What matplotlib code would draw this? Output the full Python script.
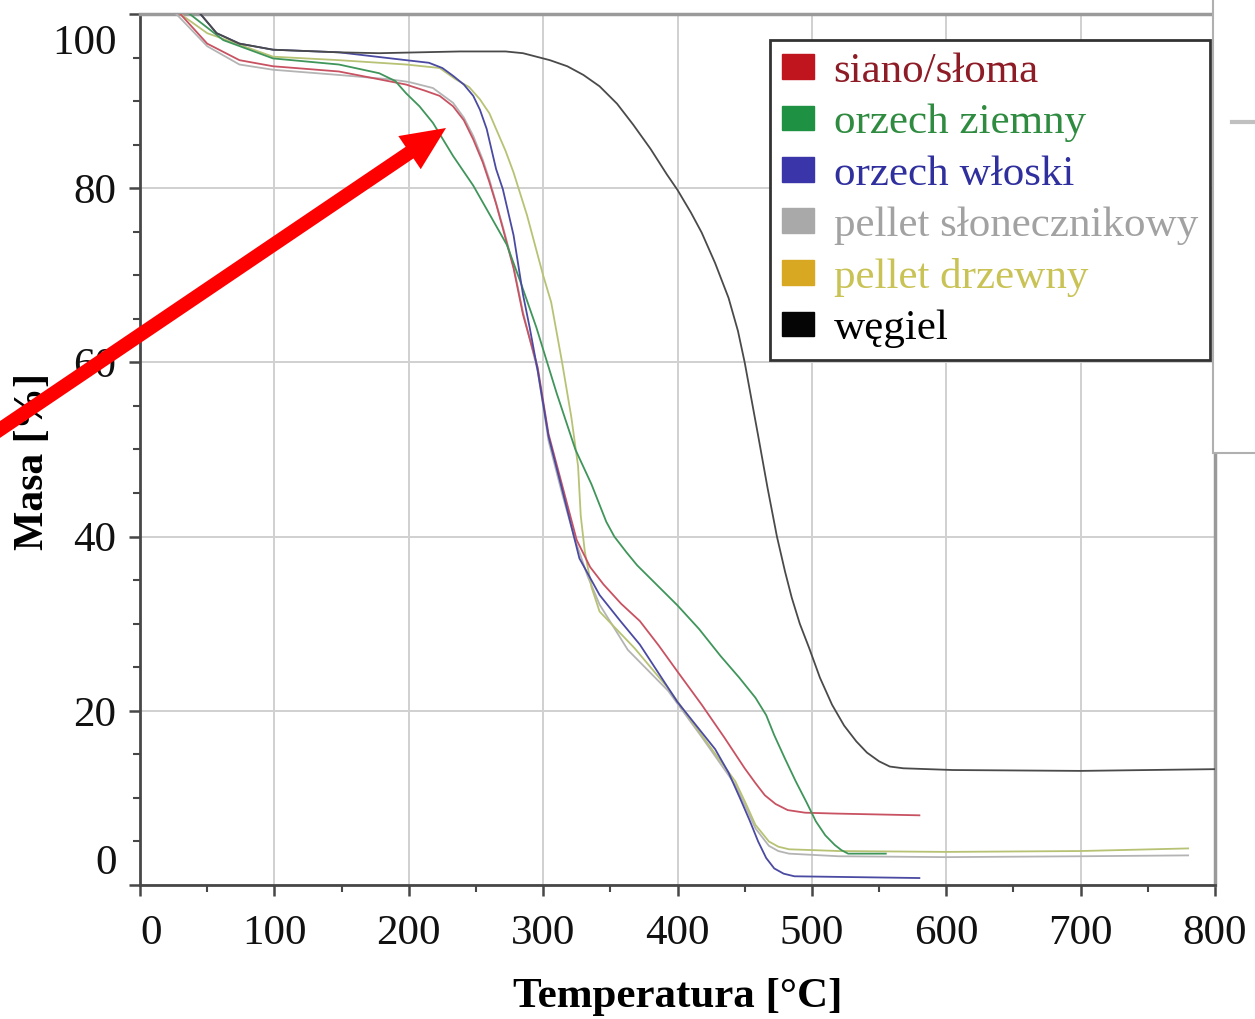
import matplotlib
matplotlib.use("Agg")
import matplotlib.pyplot as plt
from matplotlib.ticker import MultipleLocator
from matplotlib.patches import Patch, FancyArrow, Rectangle
from matplotlib.transforms import ScaledTranslation

SERIF = ["Liberation Serif", "DejaVu Serif"]

# --- TGA curves: temperature [°C] -> mass [%] ---
siano_T = [30, 50, 74, 99, 148, 198, 212, 223, 233, 241, 248, 255, 260, 265, 270, 278, 285,
           296, 304, 314, 325, 335, 345, 358, 372, 386, 400, 418, 435, 450, 458, 465, 473,
           482, 495, 518, 580]
siano_m = [100, 96.6, 94.7, 94.0, 93.4, 91.9, 91.2, 90.6, 89.4, 87.8, 85.6, 83.0, 80.7, 78.2,
           75.4, 70.8, 65.5, 59.4, 51.8, 46.0, 39.6, 36.5, 34.5, 32.3, 30.3, 27.5, 24.5, 20.7,
           16.9, 13.4, 11.7, 10.3, 9.3, 8.6, 8.3, 8.2, 8.0]

ziemny_T = [37, 62, 99, 148, 178, 190, 198, 208, 218, 233, 248, 262, 273, 283, 295, 310, 324,
            336, 347, 353, 362, 370, 385, 400, 416, 432, 446, 458, 466, 472, 480, 488, 496,
            503, 510, 517, 522, 527, 555]
ziemny_m = [100, 97.0, 94.9, 94.2, 93.2, 92.3, 90.9, 89.4, 87.5, 83.7, 80.3, 76.5, 73.5, 69.3,
            64.0, 56.5, 50.0, 46.0, 41.7, 40.0, 38.2, 36.7, 34.4, 32.1, 29.4, 26.3, 23.8, 21.5,
            19.5, 17.2, 14.5, 11.9, 9.5, 7.3, 5.7, 4.6, 4.0, 3.6, 3.6]

wloski_T = [45, 57, 74, 99, 148, 198, 215, 225, 233, 241, 248, 253, 258, 265, 270, 278, 285,
            290, 296, 304, 314, 327, 342, 357, 372, 386, 400, 414, 428, 438, 447, 454, 460,
            466, 472, 479, 487, 580]
wloski_m = [100, 97.8, 96.6, 95.9, 95.6, 94.7, 94.4, 93.8, 92.9, 91.9, 90.6, 89.0, 86.8, 82.2,
            79.9, 74.6, 67.8, 64.0, 59.0, 51.5, 45.5, 37.5, 33.3, 30.4, 27.6, 24.3, 21.0, 18.3,
            15.6, 12.9, 9.8, 7.3, 5.0, 3.1, 1.9, 1.3, 1.0, 0.8]

slonecz_T = [27, 50, 74, 99, 148, 186, 200, 218, 233, 241, 248, 255, 260, 270, 278, 285, 296,
             304, 314, 323, 333, 342, 363, 393, 418, 443, 451, 458, 468, 475, 483, 520, 600,
             700, 780]
slonecz_m = [100, 96.3, 94.2, 93.6, 93.0, 92.5, 92.2, 91.5, 89.8, 88.1, 86.0, 83.3, 81.0,
             75.6, 71.0, 65.8, 59.0, 51.0, 45.0, 40.0, 35.5, 32.2, 27.0, 22.3, 17.0, 11.5,
             8.9, 6.5, 4.5, 3.9, 3.6, 3.3, 3.2, 3.3, 3.4]

drzewny_T = [30, 50, 99, 148, 198, 223, 235, 245, 253, 260, 265, 272, 278, 288, 300, 306, 314,
             321, 326, 328, 331, 336, 342, 368, 393, 418, 443, 451, 458, 468, 475, 483, 520,
             600, 700, 780]
drzewny_m = [100, 97.8, 95.1, 94.7, 94.2, 93.8, 92.5, 91.6, 90.2, 88.6, 86.8, 84.3, 81.8, 76.9,
             70.0, 66.9, 60.1, 53.7, 48.1, 42.4, 38.3, 34.2, 31.4, 27.2, 22.6, 17.2, 11.9, 9.3,
             6.9, 5.0, 4.4, 4.1, 3.9, 3.8, 3.9, 4.2]

wegiel_T = [45, 57, 74, 99, 148, 178, 238, 272, 285, 295, 305, 318, 330, 342, 355, 367, 380,
            392, 400, 410, 418, 428, 438, 445, 450, 455, 460, 467, 474, 480, 485, 491, 498,
            506, 515, 524, 533, 541, 550, 558, 568, 605, 700, 800]
wegiel_m = [100, 97.8, 96.6, 95.9, 95.6, 95.5, 95.7, 95.7, 95.5, 95.1, 94.7, 94.0, 93.0, 91.7,
            89.7, 87.3, 84.5, 81.6, 79.8, 77.2, 74.9, 71.4, 67.4, 63.6, 60.0, 55.8, 51.6, 45.6,
            40.0, 36.0, 33.0, 30.0, 27.2, 23.8, 20.7, 18.3, 16.5, 15.2, 14.2, 13.6, 13.4, 13.2,
            13.1, 13.3]

labels = ["siano/słoma", "orzech ziemny", "orzech włoski",
          "pellet słonecznikowy", "pellet drzewny", "węgiel"]
line_colors = ["#c85262", "#3f955a", "#4a4aa2", "#b4b4b4", "#b8c274", "#4a4a4a"]
patch_colors = ["#c0141e", "#1f9142", "#3a35a8", "#a9a9a9", "#d9a822", "#050505"]
text_colors = ["#8e1c26", "#2e8b40", "#2f2f9e", "#a2a2a2", "#c9c255", "#000000"]

series = [(siano_T, siano_m), (ziemny_T, ziemny_m), (wloski_T, wloski_m),
          (slonecz_T, slonecz_m), (drzewny_T, drzewny_m), (wegiel_T, wegiel_m)]

W, H = 1255, 1019
fig = plt.figure(figsize=(W / 100, H / 100), dpi=100)
ax = fig.add_axes([140 / W, 1 - 885 / H, 1075 / W, 871 / H])

draw_order = [3, 4, 0, 1, 2, 5]
for i in draw_order:
    T, m = series[i]
    ax.plot(T, m, color=line_colors[i], lw=1.3, zorder=3)

ax.set_xlim(0, 800)
ax.set_ylim(0, 100)
ax.set_xticks(range(0, 801, 100))
ax.xaxis.set_minor_locator(MultipleLocator(50))
ax.set_yticks([0, 20, 40, 60, 80, 100])
ax.yaxis.set_minor_locator(MultipleLocator(5))
ax.grid(which="major", color="#d0d0d0", lw=1.4)
ax.set_axisbelow(True)

for side in ["left", "bottom"]:
    ax.spines[side].set_color("#474747")
    ax.spines[side].set_linewidth(2)
for side in ["top", "right"]:
    ax.spines[side].set_color("#9a9a9a")
    ax.spines[side].set_linewidth(2.5)

ax.tick_params(which="major", direction="out", length=8, width=1.8, color="#474747",
               labelsize=31, labelcolor="#111111")
ax.tick_params(which="minor", direction="out", length=5, width=1.5, color="#474747")
ax.tick_params(axis="y", pad=9)
ax.tick_params(axis="x", pad=13)
for lab in ax.get_xticklabels() + ax.get_yticklabels():
    lab.set_family(SERIF)
ylabs = ax.get_yticklabels()
ylabs[-1].set_transform(ylabs[-1].get_transform()
                        + ScaledTranslation(0, -0.25, fig.dpi_scale_trans))
ylabs[0].set_transform(ylabs[0].get_transform()
                       + ScaledTranslation(0, 0.26, fig.dpi_scale_trans))
ax.get_xticklabels()[0].set_ha("left")

ax.set_xlabel("Temperatura [°C]", fontsize=31, fontweight="bold", family=SERIF)
ax.set_ylabel("Masa [%]", fontsize=30, fontweight="bold", family=SERIF)
ax.xaxis.set_label_coords(0.5, -0.107)
ax.yaxis.set_label_coords(-0.082, 0.486)

handles = [Patch(facecolor=c, edgecolor=c) for c in patch_colors]
leg = ax.legend(handles, labels, loc="upper left", bbox_to_anchor=(0.586, 0.970),
                borderaxespad=0, prop={"family": SERIF, "size": 31},
                frameon=True, fancybox=False, framealpha=1, edgecolor="#333333",
                handlelength=0.75, handleheight=0.5, handletextpad=0.45,
                labelspacing=0.3, borderpad=0.28)
leg.get_frame().set_linewidth(2)
for txt, c in zip(leg.get_texts(), text_colors):
    txt.set_color(c)

# overlay in pixel space: red annotation arrow and the window edge on the right
ov = fig.add_axes([0, 0, 1, 1], zorder=10)
ov.set_xlim(0, W)
ov.set_ylim(H, 0)
ov.axis("off")
ov.patch.set_alpha(0)
ov.add_patch(Rectangle((1213, -5), 60, 458, facecolor="white", edgecolor="#b0b0b0", lw=1.5))
ov.plot([1232, 1262], [122, 122], color="#c0c0c0", lw=3)
ov.add_patch(FancyArrow(-20, 443, 466, -315, width=14, head_width=40, head_length=44,
                        length_includes_head=True, color="#ff0000", lw=0))

fig.savefig("out.png", dpi=100)
